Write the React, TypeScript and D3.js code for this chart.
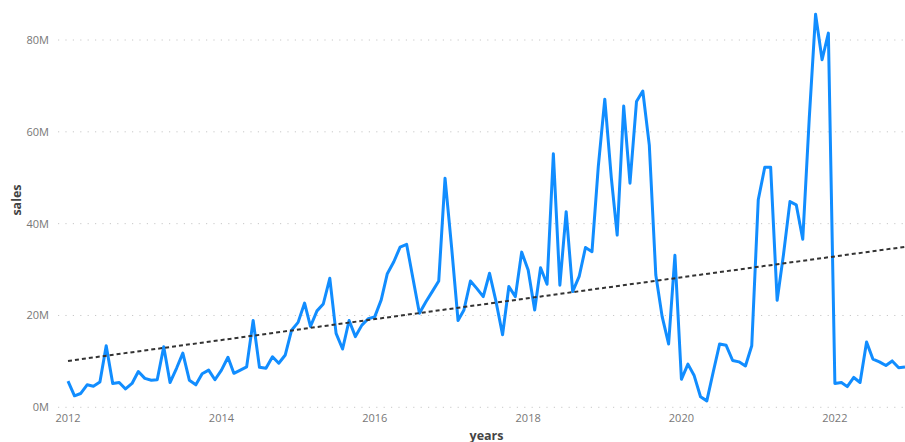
import { useEffect, useRef } from "react"
import * as d3 from "d3"

// monthly sales, in millions, one array per year (Jan..Dec)
const sales2012 = [5.7, 2.5, 3.0, 4.9, 4.6, 5.5, 13.4, 5.2, 5.4, 4.0, 5.2, 7.8]
const sales2013 = [6.3, 5.9, 6.0, 13.2, 5.4, 8.5, 11.8, 5.9, 4.9, 7.3, 8.1, 6.0]
const sales2014 = [8.1, 10.9, 7.4, 8.1, 8.8, 18.9, 8.7, 8.5, 11.0, 9.6, 11.4, 16.8]
const sales2015 = [18.5, 22.7, 17.6, 21.0, 22.5, 28.1, 16.1, 12.7, 18.9, 15.4, 17.9, 19.3]
const sales2016 = [19.7, 23.4, 29.1, 31.7, 34.9, 35.5, 28.1, 20.5, 23.0, 25.2, 27.5, 49.9]
const sales2017 = [35.0, 18.9, 21.2, 27.5, 25.9, 24.1, 29.2, 23.0, 15.8, 26.3, 24.1, 33.8]
const sales2018 = [29.9, 21.2, 30.4, 26.8, 55.2, 26.6, 42.6, 25.2, 28.5, 34.8, 33.9, 52.4]
const sales2019 = [67.1, 50.0, 37.5, 65.6, 48.8, 66.6, 68.9, 57.1, 28.8, 19.8, 13.8, 33.1]
const sales2020 = [6.1, 9.4, 7.0, 2.3, 1.4, 7.8, 13.8, 13.5, 10.2, 9.9, 9.0, 13.4]
const sales2021 = [45.2, 52.3, 52.3, 23.3, 33.2, 44.8, 44.1, 36.6, 63.0, 85.6, 75.7, 81.5]
const sales2022 = [5.2, 5.4, 4.5, 6.5, 5.4, 14.2, 10.5, 9.9, 9.1, 10.1, 8.6, 8.8]

const years = [2012, 2013, 2014, 2015, 2016, 2017, 2018, 2019, 2020, 2021, 2022]
const salesByYear = [
  sales2012, sales2013, sales2014, sales2015, sales2016, sales2017,
  sales2018, sales2019, sales2020, sales2021, sales2022,
]

const yTicks = [0, 20, 40, 60, 80]
const xTickYears = [2012, 2014, 2016, 2018, 2020, 2022]

interface Point {
  date: Date
  value: number
}

const FONT = "'Open Sans', 'Segoe UI', sans-serif"

export default function App() {
  const svgRef = useRef<SVGSVGElement>(null)

  useEffect(() => {
    if (!svgRef.current) return
    document.body.style.margin = "0"

    const data: Point[] = []
    years.forEach((yr, yi) => {
      salesByYear[yi].forEach((v, m) => data.push({ date: new Date(yr, m, 1), value: v }))
    })

    const width = 905
    const height = 442
    const svg = d3.select(svgRef.current).attr("width", width).attr("height", height)
    svg.selectAll("*").remove()

    const x = d3
      .scaleTime()
      .domain(d3.extent(data, (d) => d.date) as [Date, Date])
      .range([68, 905])
    const y = d3.scaleLinear().domain([0, 80]).range([407.3, 40])

    // Grid lines
    svg
      .append("g")
      .selectAll("line")
      .data(yTicks)
      .enter()
      .append("line")
      .attr("x1", 58)
      .attr("x2", width)
      .attr("y1", (d) => y(d))
      .attr("y2", (d) => y(d))
      .attr("stroke", "#c8c8c8")
      .attr("stroke-width", 1)
      .attr("stroke-dasharray", "1.2,6.2")

    // Y tick labels
    svg
      .append("g")
      .selectAll("text")
      .data(yTicks)
      .enter()
      .append("text")
      .attr("x", 49)
      .attr("y", (d) => y(d))
      .attr("dy", "0.35em")
      .attr("text-anchor", "end")
      .attr("fill", "#777")
      .attr("font-family", FONT)
      .attr("font-size", "11px")
      .text((d) => `${d}M`)

    // X tick labels
    svg
      .append("g")
      .selectAll("text")
      .data(xTickYears)
      .enter()
      .append("text")
      .attr("x", (d) => x(new Date(d, 0, 1)))
      .attr("y", 422)
      .attr("text-anchor", "middle")
      .attr("fill", "#777")
      .attr("font-family", FONT)
      .attr("font-size", "11px")
      .text((d) => String(d))

    // Axis titles
    svg
      .append("text")
      .attr("x", (68 + 905) / 2)
      .attr("y", 440)
      .attr("text-anchor", "middle")
      .attr("fill", "#444")
      .attr("font-family", FONT)
      .attr("font-weight", "bold")
      .attr("font-size", "12.5px")
      .text("years")

    svg
      .append("text")
      .attr("transform", "translate(20.5,200) rotate(-90)")
      .attr("text-anchor", "middle")
      .attr("fill", "#444")
      .attr("font-family", FONT)
      .attr("font-weight", "bold")
      .attr("font-size", "12.5px")
      .text("sales")

    // Sales line
    const line = d3
      .line<Point>()
      .x((d) => x(d.date))
      .y((d) => y(d.value))

    svg
      .append("path")
      .datum(data)
      .attr("fill", "none")
      .attr("stroke", "#118DFF")
      .attr("stroke-width", 3)
      .attr("stroke-linejoin", "round")
      .attr("d", line)

    // Linear trend line (least squares over time)
    const xs = data.map((d) => d.date.getTime())
    const mx = d3.mean(xs) as number
    const my = d3.mean(data, (d) => d.value) as number
    let num = 0
    let den = 0
    data.forEach((d, i) => {
      num += (xs[i] - mx) * (d.value - my)
      den += (xs[i] - mx) * (xs[i] - mx)
    })
    const slope = num / den
    const intercept = my - slope * mx
    const ends = [data[0].date, data[data.length - 1].date]

    svg
      .append("path")
      .datum(ends)
      .attr("fill", "none")
      .attr("stroke", "#333")
      .attr("stroke-width", 2)
      .attr("stroke-dasharray", "4,3")
      .attr(
        "d",
        d3
          .line<Date>()
          .x((d) => x(d))
          .y((d) => y(intercept + slope * d.getTime()))
      )
  }, [])

  return (
    <div>
      <svg ref={svgRef} style={{ display: "block" }} />
    </div>
  )
}
